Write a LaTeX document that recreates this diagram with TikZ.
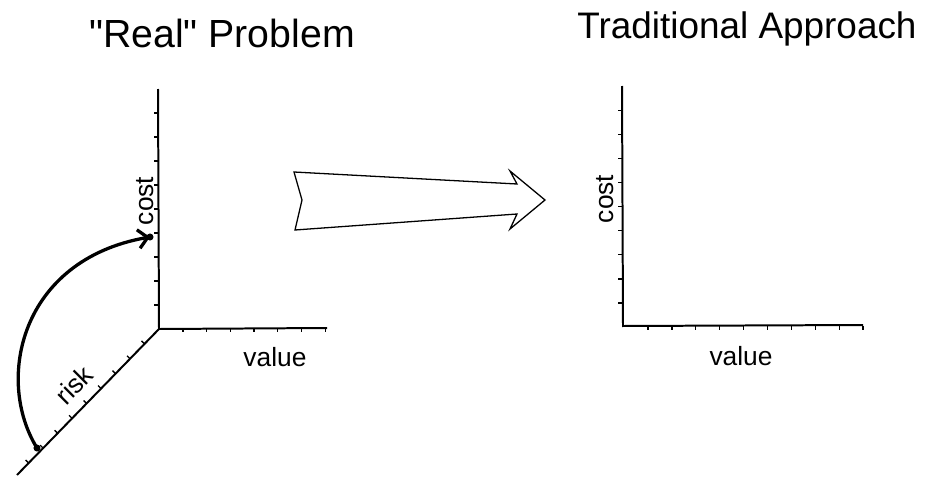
\documentclass[tikz,border=0pt]{standalone}
\usepackage{fontspec}
\setmainfont{Liberation Sans}
\usetikzlibrary{arrows.meta,calc}
\newcommand\straightquote{\XeTeXglyph\XeTeXcharglyph"22\relax}

\begin{document}
\begin{tikzpicture}[x=0.03cm,y=-0.03cm,
    axis/.style={line width=1.7pt},
    tick/.style={line width=1.1pt},
    lbl/.style={font=\fontsize{22.5}{26}\selectfont},
    heading/.style={font=\fontsize{31.5}{36}\selectfont,anchor=base},
    dot/.style={circle,fill,inner sep=0pt,minimum size=6pt},
    bigarrow/.style={line width=1.1pt,line join=miter}]
\useasboundingbox (0,0) rectangle (928,476);

% Titles
\node[heading,font=\fontsize{33.5}{38}\selectfont] (t1) at (222,47) {\straightquote Real\straightquote{} Problem};
\node[heading] (t2) at (747,38) {Traditional Approach};

% Left chart
\coordinate (o1) at (159,329);
\coordinate (c1) at (158,89);
\coordinate (v1) at (327,328);
\coordinate (r1) at (17,475);
\draw[axis] (c1) -- (o1) -- (v1);
\draw[axis] (o1) -- (r1);
\foreach \k in {0,...,8}
  \draw[tick] (158,{305-24*\k}) -- ++(-4,0);
\foreach \k in {0,...,6}
  \draw[tick] ({183+23.7*\k},328) -- ++(0,4);
\foreach \k in {1,...,9}
  \draw[tick] ($(o1)!{0.102*\k}!(r1)$) -- ++(-3,-3);
\node[lbl,rotate=90] (cost1) at (145,201) {cost};
\node[lbl] (value1) at (275,357) {value};
\node[lbl,rotate=45] (risk1) at (74,385) {risk};

% Curve from risk to cost
\node[dot] (rk) at (37,448) {};
\node[dot] (cs) at (150,237) {};
\draw[line width=2.8pt,-{Straight Barb[length=8pt,width=16pt]}]
  (rk.center) .. controls (-5,380) and (20,260) .. (cs.center);

% Big arrow
\draw[bigarrow] (294,172) -- (517,184) -- (510,171) -- (545,200)
  -- (510,229) -- (517,214) -- (295,230) -- (302,200) -- cycle;

% Right chart
\coordinate (o2) at (623,326);
\coordinate (c2) at (622,86);
\coordinate (v2) at (863,325);
\draw[axis] (c2) -- (o2) -- (v2);
\foreach \k in {0,...,8}
  \draw[tick] (622,{303-24.1*\k}) -- ++(-4,0);
\foreach \k in {0,...,9}
  \draw[tick] ({648+23.9*\k},326) -- ++(0,4);
\node[lbl,rotate=90] (cost2) at (605,199) {cost};
\node[lbl] (value2) at (741,356) {value};
\end{tikzpicture}
\end{document}
